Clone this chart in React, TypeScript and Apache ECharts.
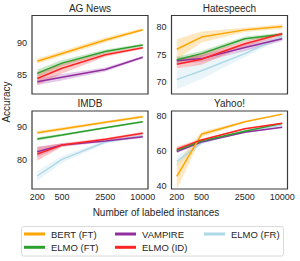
import React, { useEffect, useRef } from 'react';
import * as echarts from 'echarts';

const sizes = [200, 500, 2500, 10000];
const panelTitles = ['AG News', 'Hatespeech', 'IMDB', 'Yahoo!'];
const modelNames = ['BERT (FT)', 'ELMO (FT)', 'VAMPIRE', 'ELMO (ID)', 'ELMO (FR)'];
const modelColors = ['#ffa500', '#2ca02c', '#932e9f', '#ff2424', '#add8e6'];

// AG News
const agBert = [87.1, 88.3, 90.4, 92.0];
const agBertErr = [0.4, 0.4, 0.4, 0.2];
const agElmoFT = [85.2, 86.8, 88.6, 89.6];
const agElmoFTErr = [0.6, 0.5, 0.3, 0.2];
const agVampire = [83.9, 84.6, 85.8, 87.7];
const agVampireErr = [0.5, 0.5, 0.3, 0.2];
const agElmoID = [84.4, 86.0, 88.1, 89.2];
const agElmoIDErr = [1.0, 0.8, 0.3, 0.2];

// Hatespeech
const hsBert = [76.0, 78.2, 79.5, 80.1];
const hsBertErr = [1.8, 1.0, 0.4, 0.4];
const hsElmoFT = [74.1, 75.2, 77.9, 78.7];
const hsElmoFTErr = [0.6, 0.5, 0.4, 0.3];
const hsVampire = [73.9, 74.3, 76.3, 77.9];
const hsVampireErr = [0.6, 0.6, 0.6, 0.4];
const hsElmoID = [73.3, 74.2, 77.0, 78.8];
const hsElmoIDErr = [0.8, 1.0, 0.5, 0.3];
const hsElmoFR = [70.5, 72.1, 75.2, 78.3];
const hsElmoFRErr = [1.8, 1.5, 0.6, 0.4];

// IMDB
const imBert = [88.2, 89.3, 91.3, 93.0];
const imBertErr = [0.5, 0.5, 0.4, 0.4];
const imElmoFT = [86.3, 87.5, 89.7, 91.5];
const imElmoFTErr = [0.5, 0.4, 0.3, 0.3];
const imVampire = [82.5, 84.5, 85.7, 87.0];
const imVampireErr = [1.5, 0.5, 0.4, 0.4];
const imElmoID = [81.8, 84.5, 86.2, 88.0];
const imElmoIDErr = [2.0, 0.5, 0.4, 0.5];
const imElmoFR = [75.2, 80.2, 85.4, 87.2];
const imElmoFRErr = [1.5, 1.0, 0.5, 0.4];

// Yahoo!
const yaBert = [45.3, 69.5, 76.7, 81.1];
const yaBertErr = [7.5, 1.5, 0.5, 0.3];
const yaElmoFT = [60.4, 65.7, 71.3, 75.8];
const yaElmoFTErr = [1.0, 0.6, 0.4, 0.3];
const yaVampire = [59.6, 65.1, 70.7, 73.5];
const yaVampireErr = [1.0, 0.5, 0.3, 0.3];
const yaElmoID = [61.0, 66.3, 72.7, 75.8];
const yaElmoIDErr = [1.5, 0.6, 0.4, 0.3];
const yaElmoFR = [53.9, 64.6, 71.4, 74.9];
const yaElmoFRErr = [3.0, 1.0, 0.5, 0.3];

// y-axis ranges and tick labels per panel
const yMins = [82.0, 67.9, 71.3, 38.1];
const yMaxs = [94.2, 82.1, 94.7, 82.9];
const yTickLabels = [[85, 90], [70, 75, 80], [80, 90], [40, 60, 80]];

type Pair = [number[], number[]] | null;
const panelData: Pair[][] = [
  [[agBert, agBertErr], [agElmoFT, agElmoFTErr], [agVampire, agVampireErr], [agElmoID, agElmoIDErr], null],
  [[hsBert, hsBertErr], [hsElmoFT, hsElmoFTErr], [hsVampire, hsVampireErr], [hsElmoID, hsElmoIDErr], [hsElmoFR, hsElmoFRErr]],
  [[imBert, imBertErr], [imElmoFT, imElmoFTErr], [imVampire, imVampireErr], [imElmoID, imElmoIDErr], [imElmoFR, imElmoFRErr]],
  [[yaBert, yaBertErr], [yaElmoFT, yaElmoFTErr], [yaVampire, yaVampireErr], [yaElmoID, yaElmoIDErr], [yaElmoFR, yaElmoFRErr]],
];

const FONT = 'Liberation Sans, Arial, sans-serif';
const TEXT = '#262626';

export default function App() {
  const ref = useRef<HTMLDivElement>(null);
  useEffect(() => {
    if (!ref.current) return;
    const chart = echarts.init(ref.current, null, { renderer: 'svg' });
    const lx = sizes.map((s) => Math.log10(s));
    const span = lx[lx.length - 1] - lx[0];
    const xMin = lx[0] - span * 0.05;
    const xMax = lx[lx.length - 1] + span * 0.05;

    const grids = [
      { left: 32, top: 15.5, width: 116, height: 78.5 },
      { left: 171.5, top: 15.5, width: 116, height: 78.5 },
      { left: 32, top: 111, width: 116, height: 78 },
      { left: 171.5, top: 111, width: 116, height: 78 },
    ].map((g) => ({ ...g, show: true, borderColor: '#3a3a3a', borderWidth: 1.2, backgroundColor: '#fff' }));

    const xAxes = grids.map((_, i) => ({
      type: 'value',
      gridIndex: i,
      min: xMin,
      max: xMax,
      axisLine: { show: false },
      axisTick: { show: false },
      splitLine: { show: false },
      axisLabel: {
        show: i >= 2,
        customValues: lx,
        formatter: (v: number) => String(Math.round(Math.pow(10, v))),
        fontSize: 9,
        color: TEXT,
        fontFamily: FONT,
        margin: 3,
      },
    }));

    const yAxes = grids.map((_, i) => ({
      type: 'value',
      gridIndex: i,
      min: yMins[i],
      max: yMaxs[i],
      axisLine: { show: false },
      axisTick: { show: false },
      splitLine: { show: false },
      axisLabel: {
        customValues: yTickLabels[i],
        fontSize: 9,
        color: TEXT,
        fontFamily: FONT,
        margin: 5,
      },
    }));

    const bandRender = (color: string) => (params: any, api: any) => {
      if (params.dataIndexInside !== 0) return null;
      const n = params.dataInsideLength;
      const upper: number[][] = [];
      const lower: number[][] = [];
      for (let i = 0; i < n; i++) {
        const x = api.value(0, i);
        upper.push(api.coord([x, api.value(2, i)]));
        lower.push(api.coord([x, api.value(1, i)]));
      }
      const pts = upper.concat(lower.reverse());
      return {
        type: 'polygon',
        shape: { points: pts },
        style: { fill: color, opacity: 0.25, stroke: 'none' },
      };
    };

    const drawOrder = [4, 2, 1, 0, 3];
    const series: any[] = [];
    panelData.forEach((models, p) => {
      drawOrder.forEach((m) => {
        const d = models[m];
        if (!d) return;
        const [means, errs] = d;
        const color = modelColors[m];
        series.push({
          type: 'custom', xAxisIndex: p, yAxisIndex: p, silent: true, z: 1, clip: true,
          renderItem: bandRender(color),
          encode: { x: 0, y: [1, 2] },
          data: means.map((v, i) => [lx[i], v - errs[i], v + errs[i]]),
        });
      });
    });
    panelData.forEach((models, p) => {
      drawOrder.forEach((m) => {
        const d = models[m];
        if (!d) return;
        const [means] = d;
        const color = modelColors[m];
        series.push({
          type: 'line', name: modelNames[m], xAxisIndex: p, yAxisIndex: p, z: 2,
          symbol: 'none', lineStyle: { color, width: 1.5 }, itemStyle: { color },
          data: means.map((v, i) => [lx[i], v]),
        });
      });
    });

    const titleCenters = [
      [90, 3], [229.5, 3], [90, 98.5], [229.5, 98.5],
    ];
    const titles = panelTitles.map((t, i) => ({
      text: t,
      left: titleCenters[i][0],
      top: titleCenters[i][1],
      textAlign: 'center',
      padding: 0,
      textStyle: { fontSize: 10, fontWeight: 'normal', color: TEXT, fontFamily: FONT },
    }));

    const legendCols = [
      { left: 24, data: [modelNames[0], modelNames[1]] },
      { left: 115, data: [modelNames[2], modelNames[3]] },
      { left: 204, data: [modelNames[4]] },
    ];
    const legends = legendCols.map((c) => ({
      orient: 'vertical',
      left: c.left,
      top: 228.5,
      padding: 0,
      itemGap: 2.3,
      itemWidth: 21,
      itemHeight: 3,
      icon: 'rect',
      data: c.data,
      selectedMode: false,
      textStyle: { fontSize: 9.5, lineHeight: 11, color: TEXT, fontFamily: FONT, padding: [0, 0, 0, 1] },
    }));

    chart.setOption({
      animation: false,
      backgroundColor: '#fff',
      title: titles,
      grid: grids,
      xAxis: xAxes,
      yAxis: yAxes,
      legend: legends,
      series,
      graphic: [
        {
          type: 'rect', z: 0,
          shape: { x: 21.5, y: 226.5, width: 262, height: 29.5, r: 2 },
          style: { fill: '#fff', stroke: '#d0d0d0', lineWidth: 0.8 },
        },
        {
          type: 'text', x: 6, y: 102, rotation: Math.PI / 2,
          style: { text: 'Accuracy', fontSize: 10, fill: TEXT, fontFamily: FONT, align: 'center', verticalAlign: 'middle' },
        },
        {
          type: 'text', x: 156, y: 212,
          style: { text: 'Number of labeled instances', fontSize: 10, fill: TEXT, fontFamily: FONT, align: 'center', verticalAlign: 'middle' },
        },
      ],
    });
    return () => chart.dispose();
  }, []);
  return <div ref={ref} style={{ position: 'absolute', left: 0, top: 0, width: 300, height: 261 }} />;
}
